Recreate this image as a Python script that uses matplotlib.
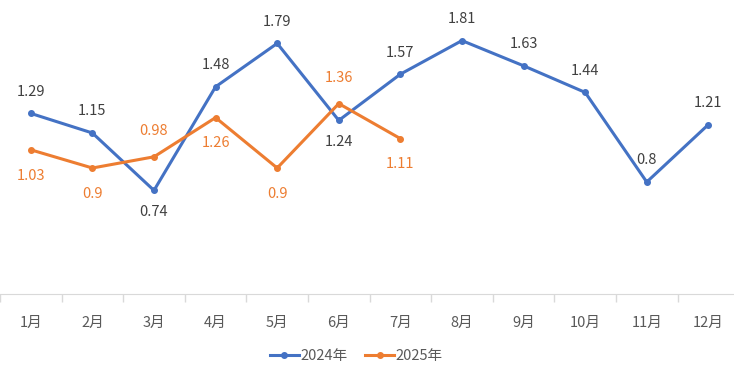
import matplotlib.pyplot as plt

plt.rcParams['font.family'] = ['Noto Sans CJK SC', 'DejaVu Sans']

months = ['1月', '2月', '3月', '4月', '5月', '6月', '7月', '8月', '9月', '10月', '11月', '12月']
v2024 = [1.29, 1.15, 0.74, 1.48, 1.79, 1.24, 1.57, 1.81, 1.63, 1.44, 0.8, 1.21]
v2025 = [1.03, 0.9, 0.98, 1.26, 0.9, 1.36, 1.11]
# label above (1) or below (-1) the point
pos2024 = [1, 1, -1, 1, 1, -1, 1, 1, 1, 1, 1, 1]
pos2025 = [-1, -1, 1, -1, -1, 1, -1]

blue = '#4472C4'
orange = '#ED7D31'

fig = plt.figure(figsize=(7.34, 3.68), dpi=100)
ax = fig.add_axes([0.0, 0.201, 1.007, 0.761])

x24 = list(range(len(v2024)))
x25 = list(range(len(v2025)))
ax.plot(x24, v2024, color=blue, lw=2.2, marker='o', ms=4, label='2024年', zorder=3)
ax.plot(x25, v2025, color=orange, lw=2.2, marker='o', ms=4, label='2025年', zorder=3)

for x, v, p in zip(x24, v2024, pos2024):
    ax.annotate(f'{v:g}', (x, v), xytext=(0, 15.5 * p), textcoords='offset points',
                ha='center', va='center', fontsize=10.5, color='#404040')
for x, v, p in zip(x25, v2025, pos2025):
    ax.annotate(f'{v:g}', (x, v), xytext=(0, 18.5 * p), textcoords='offset points',
                ha='center', va='center', fontsize=10.5, color=orange)

ax.set_xlim(-0.5, 11.5)
ax.set_ylim(0, 2)
ax.set_yticks([])
ax.set_xticks(x24)
ax.set_xticklabels(months, fontsize=10.5, color='#595959')
ax.tick_params(axis='x', length=0, pad=16)
ax.set_xticks([i - 0.5 for i in range(13)], minor=True)
ax.tick_params(axis='x', which='minor', length=6, color='#D9D9D9', width=1)
for s in ['top', 'right', 'left']:
    ax.spines[s].set_visible(False)
ax.spines['bottom'].set_color('#D9D9D9')

ax.legend(loc='center', bbox_to_anchor=(0.482, -0.22), ncol=2, frameon=False,
          fontsize=10.5, labelcolor='#595959', handlelength=2.0, handletextpad=0.1,
          columnspacing=1.2)

fig.savefig('out.png', dpi=100)
